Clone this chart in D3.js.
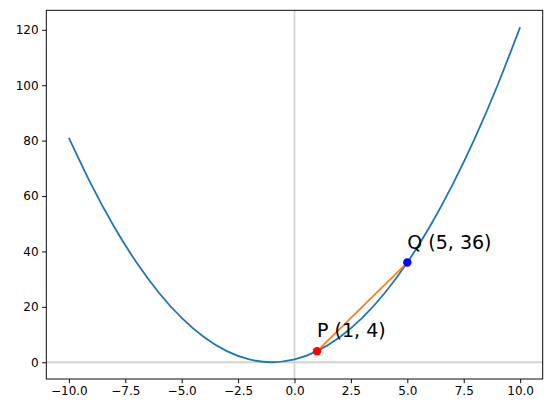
<!DOCTYPE html>
<html><head><meta charset="utf-8">
<script src="https://cdn.jsdelivr.net/npm/d3@7"></script>
<style>body{margin:0;background:#fff}svg{display:block}</style>
</head><body>
<svg id="c" width="552" height="413"></svg>
<script>
const xValues = [-10,-9,-8,-7,-6,-5,-4,-3,-2,-1,0,1,2,3,4,5,6,7,8,9,10];
const yValues = [81,64,49,36,25,16,9,4,1,0,1,4,9,16,25,36,49,64,81,100,121];
const pointP = {x:1, y:4, label:"P (1, 4)"};
const pointQ = {x:5, y:36, label:"Q (5, 36)"};
const xTicks = [-10,-7.5,-5,-2.5,0,2.5,5,7.5,10];
const yTicks = [0,20,40,60,80,100,120];

const FONT = "DejaVu Sans";
const svg = d3.select("#c");
const L=46.3, R=542.7, T=10.3, B=379;
const x = d3.scaleLinear().domain([-11,11]).range([L,R]);
const y = d3.scaleLinear().domain([-6.05,127.05]).range([B,T]);

svg.append("defs").append("clipPath").attr("id","cl").append("rect")
  .attr("x",L).attr("y",T).attr("width",R-L).attr("height",B-T);
const g = svg.append("g").attr("clip-path","url(#cl)");

g.append("line").attr("x1",L).attr("x2",R).attr("y1",y(0)).attr("y2",y(0))
  .attr("stroke","#d3d3d3").attr("stroke-width",1.8);
g.append("line").attr("x1",x(0)).attr("x2",x(0)).attr("y1",T).attr("y2",B)
  .attr("stroke","#d3d3d3").attr("stroke-width",1.8);

const data = xValues.map((v,i)=>[v,yValues[i]]);
g.append("path").datum(data)
  .attr("d", d3.line().x(d=>x(d[0])).y(d=>y(d[1])).curve(d3.curveNatural))
  .attr("fill","none").attr("stroke","#1f77b4").attr("stroke-width",1.8);

g.append("line").attr("x1",x(pointP.x)).attr("y1",y(pointP.y))
  .attr("x2",x(pointQ.x)).attr("y2",y(pointQ.y))
  .attr("stroke","#ff7f0e").attr("stroke-width",1.8);

g.append("circle").attr("cx",x(pointP.x)).attr("cy",y(pointP.y)).attr("r",4.2).attr("fill","#ff0000");
g.append("circle").attr("cx",x(pointQ.x)).attr("cy",y(pointQ.y)).attr("r",4.2).attr("fill","#0000ff");

[pointP, pointQ].forEach(p=>{
  svg.append("text").attr("x",x(p.x)).attr("y",y(p.y+5))
    .style("font-size","19px").style("font-family",FONT)
    .attr("fill","#000").text(p.label);
});

const xa = svg.append("g").attr("transform",`translate(0,${B})`)
  .call(d3.axisBottom(x).tickValues(xTicks).tickSize(4.2).tickPadding(3.5));
const ya = svg.append("g").attr("transform",`translate(${L},0)`)
  .call(d3.axisLeft(y).tickValues(yTicks).tickFormat(d3.format("d")).tickSize(4.2).tickPadding(3.5));
[xa,ya].forEach(a=>{
  a.attr("font-family",null).attr("font-size",null);
  a.select(".domain").remove();
  a.selectAll("text").style("font-size","12px").style("font-family",FONT).attr("fill","#000");
  a.selectAll("line").attr("stroke","#000").attr("stroke-width",0.96);
});
xa.selectAll("text").text(d=>d3.format(".1f")(d).replace("-","\u2212"));

svg.append("rect").attr("x",L).attr("y",T).attr("width",R-L).attr("height",B-T)
  .attr("fill","none").attr("stroke","#000").attr("stroke-width",0.96);
</script>
</body></html>
